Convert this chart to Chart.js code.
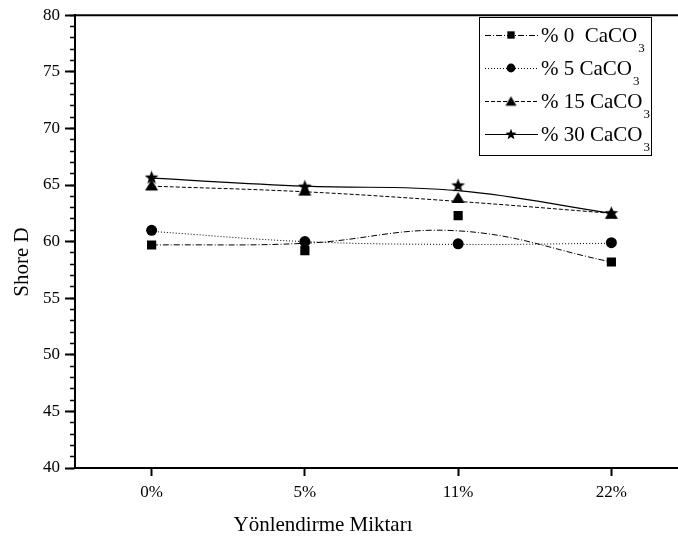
<!DOCTYPE html>
<html><head><meta charset="utf-8">
<script src="https://cdn.jsdelivr.net/npm/chart.js@4/dist/chart.umd.min.js"></script>
<style>
html,body{margin:0;padding:0;background:#fff;overflow:hidden}
#wrap{width:678px;height:540px;overflow:hidden;position:relative;background:#fff}
canvas{display:block}
</style></head>
<body><div id="wrap"><canvas id="c" width="700" height="540"></canvas></div>
<script>
// ---- data ----
const categories = ['0%', '5%', '11%', '22%'];
const seriesNames = ['% 0  CaCO3', '% 5 CaCO3', '% 15 CaCO3', '% 30 CaCO3'];
const xTitle = 'Yönlendirme Miktarı';
const yTitle = 'Shore D';
// measured points
const caco0 = [59.7, 59.2, 62.3, 58.2];
const caco5 = [61.0, 60.0, 59.8, 59.9];
const caco15 = [65.0, 64.55, 63.9, 62.5];
const caco30 = [65.7, 64.9, 65.0, 62.55];
// smoothed fit curves, read at each category
const fit0 = [59.7, 59.85, 60.95, 58.2];
const fit5 = [60.9, 60.0, 59.75, 59.85];
const fit15 = [64.9, 64.4, 63.55, 62.5];
const fit30 = [65.6, 64.9, 64.5, 62.5];
const yMin = 40, yMax = 80, yMajorStep = 5, yMinorStep = 1;

const FONT = "'Liberation Serif', 'Times New Roman', serif";

function makeStar(R, ratio) {
  const s = Math.ceil(R * 2) + 2;
  const c = document.createElement('canvas');
  c.width = s; c.height = s;
  const g = c.getContext('2d');
  g.fillStyle = '#000';
  g.beginPath();
  const cx = s / 2, cy = s / 2 + R * 0.1;
  for (let i = 0; i < 10; i++) {
    const a = -Math.PI / 2 + i * Math.PI / 5;
    const rr = i % 2 ? R * ratio : R;
    g.lineTo(cx + rr * Math.cos(a), cy + rr * Math.sin(a));
  }
  g.closePath(); g.fill();
  return c;
}
function makeTriangle(w, h) {
  const s = Math.ceil(Math.max(w, h)) + 2;
  const c = document.createElement('canvas');
  c.width = s; c.height = s;
  const g = c.getContext('2d');
  g.fillStyle = '#000';
  g.beginPath();
  g.moveTo(s / 2, s / 2 - h / 2);
  g.lineTo(s / 2 + w / 2, s / 2 + h / 2);
  g.lineTo(s / 2 - w / 2, s / 2 + h / 2);
  g.closePath(); g.fill();
  return c;
}
const starBig = makeStar(7.2, 0.42);
const starSmall = makeStar(5.8, 0.42);
const triBig = makeTriangle(13, 11);
const triSmall = makeTriangle(11, 9.5);

const pointData = [caco0, caco5, caco15, caco30];
const fitData = [fit0, fit5, fit15, fit30];
const styles = ['rect', 'circle', triBig, starBig];
const legendStyles = ['rect', 'circle', triSmall, starSmall];
const radii = [6.5, 5.5, 7, 7];
const legendRadii = [5.2, 4.4, 6, 6];
const dashes = [[6, 2, 1, 2], [1, 2], [4, 2], []];

const datasets = [];
fitData.forEach((d, i) => {
  datasets.push({
    label: seriesNames[i] + ' fit', data: d, borderColor: '#000', borderWidth: i === 3 ? 1.2 : 1,
    borderDash: dashes[i], pointRadius: 0, pointHitRadius: 0, tension: 0.4, fill: false,
    yAxisID: 'y'
  });
});
pointData.forEach((d, i) => {
  datasets.push({
    label: seriesNames[i], data: d, showLine: false, pointStyle: styles[i],
    pointRadius: radii[i], pointBackgroundColor: '#000', pointBorderColor: '#000',
    pointBorderWidth: 0, borderColor: '#000', yAxisID: 'y'
  });
});

const deco = {
  id: 'deco',
  afterDraw(chart) {
    const ctx = chart.ctx, a = chart.chartArea;
    ctx.save();
    ctx.strokeStyle = '#000'; ctx.lineWidth = 2;
    ctx.beginPath(); ctx.moveTo(a.left - 1, a.top); ctx.lineTo(chart.width, a.top); ctx.stroke();
    ctx.fillStyle = '#000';
    ctx.font = '21px ' + FONT;
    ctx.textAlign = 'center'; ctx.textBaseline = 'alphabetic';
    ctx.fillText(xTitle, 323, 531);
    ctx.save();
    ctx.translate(28, 262); ctx.rotate(-Math.PI / 2);
    ctx.fillText(yTitle, 0, 0);
    ctx.restore();
    // legend
    ctx.lineWidth = 1;
    ctx.strokeRect(479.5, 17.5, 172, 138);
    for (let i = 0; i < 4; i++) {
      const cy = 35 + 33 * i;
      ctx.save();
      ctx.lineWidth = 1; ctx.setLineDash(dashes[i]);
      ctx.beginPath(); ctx.moveTo(485, cy + 0.5); ctx.lineTo(538, cy + 0.5); ctx.stroke();
      ctx.restore();
      ctx.fillStyle = '#000';
      Chart.helpers.drawPoint(ctx, { pointStyle: legendStyles[i], radius: legendRadii[i], borderWidth: 0, rotation: 0 }, 511, cy);
      const label = seriesNames[i];
      const main = label.slice(0, -1), sub = label.slice(-1);
      ctx.font = '21px ' + FONT; ctx.textAlign = 'left';
      ctx.fillText(main, 541, cy + 7);
      const w = ctx.measureText(main).width;
      ctx.font = '13px ' + FONT;
      ctx.fillText(sub, 541 + w + 1, cy + 17);
    }
    ctx.restore();
  }
};

new Chart(document.getElementById('c'), {
  type: 'line',
  data: { labels: categories, datasets },
  options: {
    responsive: false, devicePixelRatio: 1, animation: false,
    layout: { padding: { top: 13, right: 12, left: 0, bottom: 0 } },
    plugins: { legend: { display: false }, tooltip: { enabled: false } },
    scales: {
      x: {
        type: 'category', offset: true, position: 'bottom',
        grid: { display: true, drawOnChartArea: false, drawTicks: true, tickLength: 8, tickWidth: 2, tickColor: '#000', offset: false },
        border: { display: true, color: '#000', width: 2 },
        ticks: { color: '#000', font: { family: FONT, size: 17 }, padding: 6, maxRotation: 0, autoSkip: false },
        afterFit(s) { s.height = 72; }
      },
      y: {
        type: 'linear', min: yMin, max: yMax, position: 'left', weight: 1,
        ticks: { stepSize: yMajorStep, maxTicksLimit: 100, color: '#000', font: { family: FONT, size: 17 }, padding: 5 },
        grid: { display: true, drawOnChartArea: false, tickLength: 10, tickWidth: 2, tickColor: '#000' },
        border: { display: true, color: '#000', width: 2 },
        afterFit(s) { s.width = 75; }
      },
      yMinor: {
        type: 'linear', min: yMin, max: yMax, position: 'left', weight: 0,
        ticks: { display: false, stepSize: yMinorStep, maxTicksLimit: 100, autoSkip: false },
        grid: { display: true, drawOnChartArea: false, tickLength: 5, tickWidth: 1.5, tickColor: '#000' },
        border: { display: false },
        afterFit(s) { s.width = 0; }
      }
    }
  },
  plugins: [deco]
});
</script>
</body></html>
